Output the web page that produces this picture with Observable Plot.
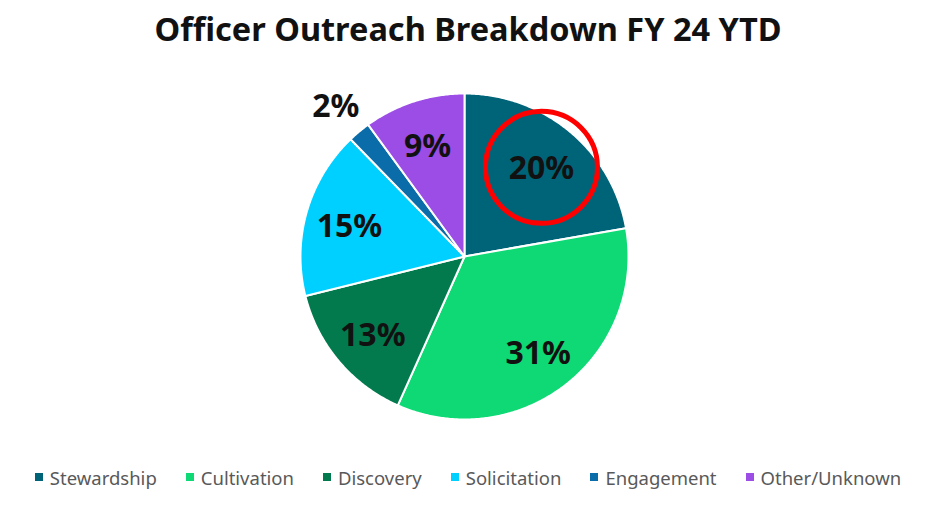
<!DOCTYPE html>
<html>
<head>
<meta charset="utf-8">
<script src="https://cdn.jsdelivr.net/npm/d3@7"></script>
<script src="https://cdn.jsdelivr.net/npm/@observablehq/plot@0.6"></script>
<style>
  body { margin: 0; background: #fff; font-family: "Noto Sans", "Open Sans", sans-serif; width: 936px; height: 520px; overflow: hidden; position: relative; }
  #title { position: absolute; left: 0; top: 0; width: 936px; height: 60px; line-height: 58px; text-align: center; font-size: 32.5px; font-weight: bold; color: #111; }
  #chart { position: absolute; left: 0; top: 60px; }
  #legend { position: absolute; left: 0; top: 464px; width: 936px; display: flex; justify-content: center; }
  #legend .lg-swatches-wrap { min-height: 26px; justify-content: center; flex-wrap: nowrap; }
  #legend .lg-swatch { margin-right: 29px; }
  #legend .lg-swatch:last-child { margin-right: 0; }
  #legend .lg-swatch > svg { margin-right: 7px; }
</style>
</head>
<body>
<div id="title">Officer Outreach Breakdown FY 24 YTD</div>
<div id="chart"></div>
<div id="legend"></div>
<script>
const categories = ["Stewardship", "Cultivation", "Discovery", "Solicitation", "Engagement", "Other/Unknown"];
const values = [20, 31, 13, 15, 2, 9];
const labels = ["20%", "31%", "13%", "15%", "2%", "9%"];
const colors = ["#006479", "#0fd975", "#037a4e", "#00d0ff", "#0a6ca9", "#9b4de6"];
const highlighted = "Stewardship";

const arcs = d3.pie().sort(null).value(d => d)(values);
const total = d3.sum(values);

// slice outlines (unit circle), built from the pie angles
const points = [];
arcs.forEach((a, i) => {
  const cat = categories[i];
  points.push({cat, x: 0, y: 0});
  const n = Math.max(2, Math.ceil((a.endAngle - a.startAngle) / (Math.PI / 360)));
  for (let k = 0; k <= n; ++k) {
    const t = a.startAngle + (a.endAngle - a.startAngle) * k / n;
    points.push({cat, x: Math.sin(t), y: Math.cos(t)});
  }
});

// label positions at slice mid-angles
const labelData = arcs.map((a, i) => {
  const mid = (a.startAngle + a.endAngle) / 2;
  const r = values[i] / total < 0.05 ? 1.22 : 0.73;
  return {cat: categories[i], label: labels[i], x: r * Math.sin(mid), y: r * Math.cos(mid)};
});
const highlightData = labelData.filter(d => d.cat === highlighted);

const chart = Plot.plot({
  width: 936,
  height: 400,
  marginLeft: 300,
  marginRight: 308,
  marginTop: 33,
  marginBottom: 41,
  style: {background: "#fff", overflow: "visible"},
  x: {domain: [-1, 1], axis: null},
  y: {domain: [-1, 1], axis: null},
  color: {domain: categories, range: colors},
  marks: [
    Plot.line(points, {x: "x", y: "y", z: "cat", fill: "cat", stroke: "white", strokeWidth: 2, strokeLinejoin: "round", curve: "linear-closed"}),
    Plot.text(labelData, {x: "x", y: "y", text: "label", fontSize: 32, fontWeight: "bold", fill: "#111", fontFamily: "Noto Sans", dy: 3}),
    Plot.dot(highlightData, {x: "x", y: "y", r: 56, stroke: "#ff0000", strokeWidth: 5, fill: "none", dy: 2})
  ]
});
document.getElementById("chart").appendChild(chart);

const legend = Plot.legend({
  color: {domain: categories, range: colors},
  swatchSize: 8,
  className: "lg",
  style: {fontSize: "18.5px", color: "#595959", fontFamily: "Noto Sans"}
});
document.getElementById("legend").appendChild(legend);
</script>
</body>
</html>
